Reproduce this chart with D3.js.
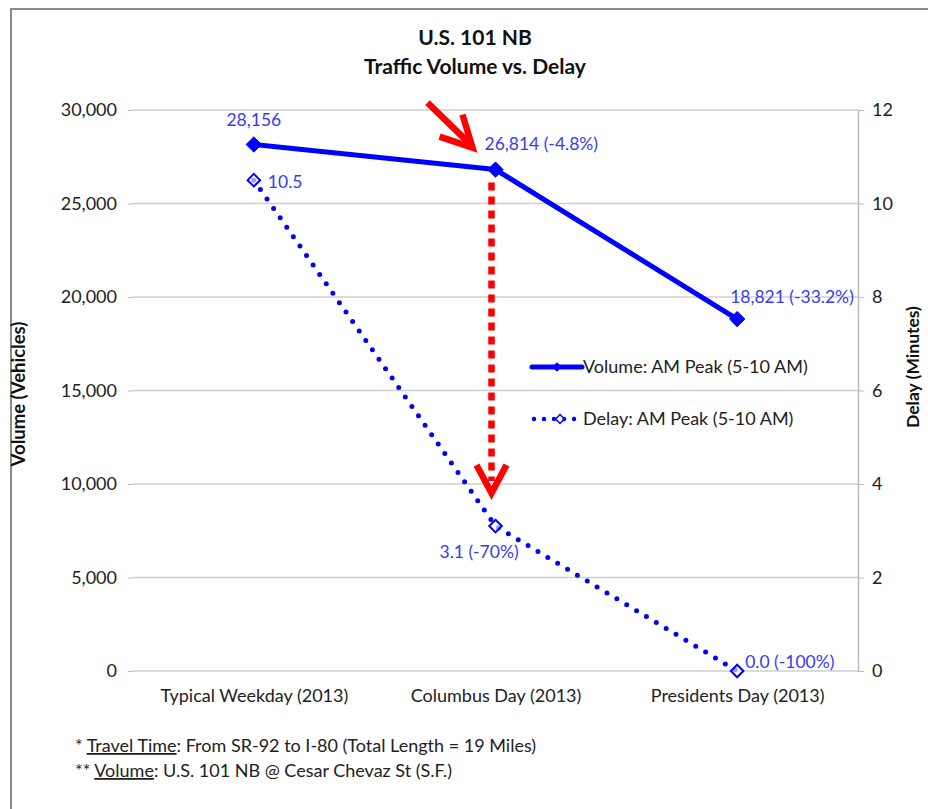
<!DOCTYPE html>
<html><head><meta charset="utf-8">
<script src="https://cdn.jsdelivr.net/npm/d3@7"></script>
<style>body{margin:0;background:#fff}svg{display:block}text{font-family:Lato,"Open Sans",sans-serif}</style>
</head><body><svg id="c" width="928" height="809"></svg>
<script>
const categories = ["Typical Weekday (2013)", "Columbus Day (2013)", "Presidents Day (2013)"];
const volume = [28156, 26814, 18821];
const delay = [10.5, 3.1, 0.0];
const volumeLabels = ["28,156", "26,814 (-4.8%)", "18,821 (-33.2%)"];
const delayLabels = ["10.5", "3.1 (-70%)", "0.0 (-100%)"];
const volumeTicks = [0, 5000, 10000, 15000, 20000, 25000, 30000];
const delayTicks = [0, 2, 4, 6, 8, 10, 12];
const titleLines = ["U.S. 101 NB", "Traffic Volume vs. Delay"];
const seriesNames = ["Volume: AM Peak (5-10 AM)", "Delay: AM Peak (5-10 AM)"];

const svg = d3.select("#c");
const blue = "#0000ff", lblBlue = "#3a3af2", red = "#ff0000", txt = "#222";
const L = 133, R = 858, T = 110, B = 671;

// chart border
svg.append("rect").attr("x", 11).attr("y", 9).attr("width", 940).attr("height", 840)
  .attr("fill", "none").attr("stroke", "#8a8a8a").attr("stroke-width", 2);

const x = d3.scalePoint().domain(categories).range([L, R]).padding(0.5);
const yV = d3.scaleLinear().domain([0, 30000]).range([B, T]);
const yD = d3.scaleLinear().domain([0, 12]).range([B, T]);

// gridlines
svg.append("g").selectAll("line").data(volumeTicks).join("line")
  .attr("x1", L).attr("x2", R).attr("y1", d => yV(d)).attr("y2", d => yV(d))
  .attr("stroke", "#cfcfcf").attr("stroke-width", 1.3);

// left axis
const gl = svg.append("g").attr("transform", `translate(${L},0)`)
  .call(d3.axisLeft(yV).tickValues(volumeTicks).tickFormat(d3.format(",")).tickSize(5).tickPadding(11));
gl.select(".domain").remove();
gl.selectAll("line").attr("stroke", "#bbb");
gl.selectAll("text").attr("font-size", 18).attr("fill", txt).style("font-family", "Lato");

// right axis
const gr = svg.append("g").attr("transform", `translate(${R},0)`)
  .call(d3.axisRight(yD).tickValues(delayTicks).tickSize(6).tickPadding(8).tickSizeOuter(0));
gr.select(".domain").attr("stroke", "#bbb").attr("stroke-width", 1.5);
gr.selectAll("line").attr("stroke", "#bbb");
gr.selectAll("text").attr("font-size", 18).attr("fill", txt);

// bottom axis labels
const gb = svg.append("g").attr("transform", `translate(0,${B})`)
  .call(d3.axisBottom(x).tickSize(0).tickPadding(18));
gb.select(".domain").remove();
gb.selectAll("text").attr("font-size", 18).attr("fill", txt);

// title
svg.append("g").selectAll("text").data(titleLines).join("text")
  .attr("x", 475).attr("y", (d, i) => 45 + i * 29).attr("text-anchor", "middle")
  .attr("font-size", 21).attr("font-weight", "bold").attr("fill", "#111").text(d => d);

// axis titles
svg.append("text").attr("transform", "translate(25,394) rotate(-90)").attr("text-anchor", "middle")
  .attr("font-size", 18.5).attr("font-weight", "bold").attr("fill", "#111").text("Volume (Vehicles)");
svg.append("text").attr("transform", "translate(919,367) rotate(-90)").attr("text-anchor", "middle")
  .attr("font-size", 17.5).attr("font-weight", "bold").attr("fill", "#111").text("Delay (Minutes)");

// red annotations (drawn under series)
const xc = x(categories[1]);
const yc = yV(volume[1]), yd = yD(delay[1]);
const ann = svg.append("g").attr("stroke", red).attr("fill", "none").attr("stroke-width", 6.5);
ann.append("line").attr("x1", xc - 4).attr("x2", xc - 4)
  .attr("y1", yc + 13).attr("y2", yd - 45)
  .attr("stroke-dasharray", "8,6");
ann.append("path").attr("d", `M${xc - 19},${yd - 61} L${xc - 4},${yd - 33} L${xc + 11},${yd - 61}`)
  .attr("stroke-linejoin", "miter");
ann.append("line").attr("x1", xc - 68).attr("y1", yc - 67).attr("x2", xc - 27).attr("y2", yc - 27);
ann.append("path").attr("d", `M${xc - 33},${yc - 55} L${xc - 23},${yc - 22} L${xc - 56},${yc - 33}`)
  .attr("stroke-linejoin", "miter");

// delay series (dotted)
const pts = categories.map((c, i) => ({c, i}));
svg.append("path").datum(pts)
  .attr("d", d3.line().x(d => x(d.c)).y(d => yD(delay[d.i])))
  .attr("fill", "none").attr("stroke", blue).attr("stroke-width", 5)
  .attr("stroke-linecap", "round").attr("stroke-dasharray", "0,11.5");
svg.append("g").selectAll("path").data(pts).join("path")
  .attr("transform", d => `translate(${x(d.c)},${yD(delay[d.i])})`)
  .attr("d", d3.symbol(d3.symbolDiamond2, 100)())
  .attr("fill", "rgba(255,255,255,0.6)").attr("stroke", blue).attr("stroke-width", 2);

// volume series
svg.append("path").datum(pts)
  .attr("d", d3.line().x(d => x(d.c)).y(d => yV(volume[d.i])))
  .attr("fill", "none").attr("stroke", blue).attr("stroke-width", 5).attr("stroke-linejoin", "round");
svg.append("g").selectAll("path").data(pts).join("path")
  .attr("transform", d => `translate(${x(d.c)},${yV(volume[d.i])})`)
  .attr("d", d3.symbol(d3.symbolDiamond2, 150)())
  .attr("fill", blue).attr("stroke", blue).attr("stroke-width", 1);

// data labels
const vOff = [[0, -18, "middle"], [-11, -20, "start"], [-7, -16, "start"]];
svg.append("g").selectAll("text").data(pts).join("text")
  .attr("x", d => x(d.c) + vOff[d.i][0]).attr("y", d => yV(volume[d.i]) + vOff[d.i][1])
  .attr("text-anchor", d => vOff[d.i][2]).attr("font-size", 17.5).attr("fill", lblBlue)
  .text(d => volumeLabels[d.i]);
const dOff = [[14, 8, "start"], [-56, 32, "start"], [8, -3, "start"]];
svg.append("g").selectAll("text").data(pts).join("text")
  .attr("x", d => x(d.c) + dOff[d.i][0]).attr("y", d => yD(delay[d.i]) + dOff[d.i][1])
  .attr("text-anchor", d => dOff[d.i][2]).attr("font-size", 17.5).attr("fill", lblBlue)
  .text(d => delayLabels[d.i]);

// legend
const lg = svg.append("g").attr("transform", "translate(532,367)");
lg.append("line").attr("x1", 0).attr("x2", 50).attr("stroke", blue).attr("stroke-width", 5).attr("stroke-linecap", "round");
lg.append("path").attr("transform", "translate(25,0)").attr("d", d3.symbol(d3.symbolDiamond2, 60)()).attr("fill", blue);
lg.append("text").attr("x", 51).attr("y", 6).attr("font-size", 18).attr("fill", txt).text(seriesNames[0]);
const lg2 = svg.append("g").attr("transform", "translate(532,419)");
lg2.append("line").attr("x1", 2).attr("x2", 50).attr("stroke", blue).attr("stroke-width", 4.5)
  .attr("stroke-linecap", "round").attr("stroke-dasharray", "0,10");
lg2.append("path").attr("transform", "translate(28,0)").attr("d", d3.symbol(d3.symbolDiamond2, 50)())
  .attr("fill", "rgba(255,255,255,0.5)").attr("stroke", blue).attr("stroke-width", 1.5);
lg2.append("text").attr("x", 51).attr("y", 6).attr("font-size", 18).attr("fill", txt).text(seriesNames[1]);

// footnotes
const fn = svg.append("g").attr("font-size", 18).attr("fill", txt);
const f1 = fn.append("text").attr("x", 75).attr("y", 752);
f1.append("tspan").text("* ");
f1.append("tspan").attr("text-decoration", "underline").text("Travel Time");
f1.append("tspan").text(": From SR-92 to I-80 (Total Length = 19 Miles)");
const f2 = fn.append("text").attr("x", 75).attr("y", 777);
f2.append("tspan").text("** ");
f2.append("tspan").attr("text-decoration", "underline").text("Volume");
f2.append("tspan").text(": U.S. 101 NB @ Cesar Chevaz St (S.F.)");
</script></body></html>
